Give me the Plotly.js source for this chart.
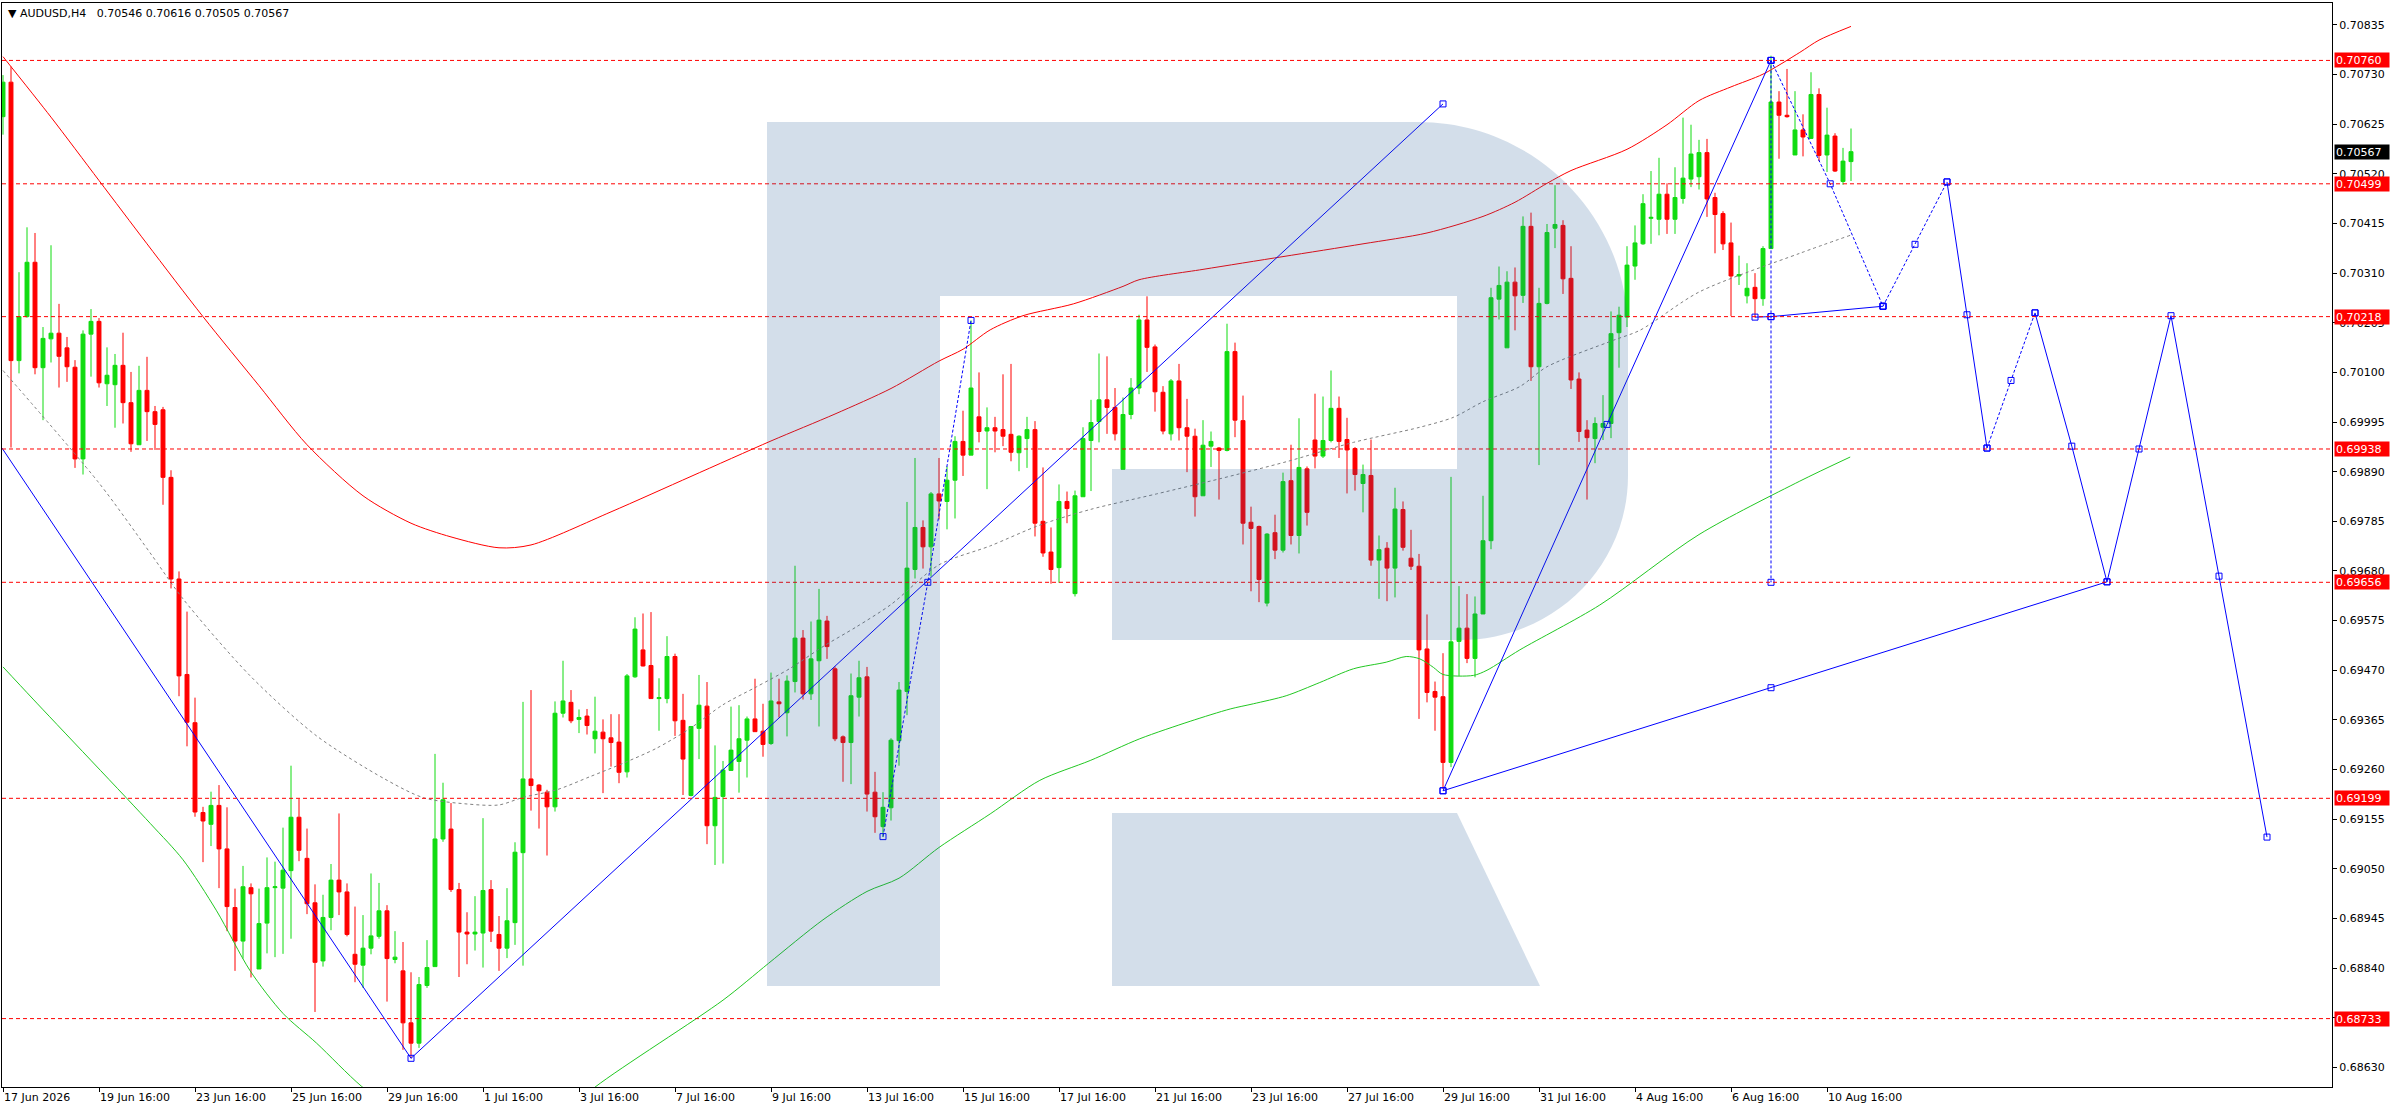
<!DOCTYPE html>
<html><head><meta charset="utf-8">
<script src="https://cdn.plot.ly/plotly-3.0.1.min.js"></script>
<style>html,body{margin:0;padding:0;background:#fff}#chart{width:2396px;height:1110px}</style>
</head><body><div id="chart"></div>
<script>
// ---------- DATA ----------
const headerText = "\u25BC AUDUSD,H4\u00a0\u00a0 0.70546 0.70616 0.70505 0.70567";

const open = [
0.70641,0.70714,0.70125,0.70218,0.70333,0.70110,0.70171,0.70183,0.70152,0.70111,
0.69917,0.70181,0.70208,0.70076,0.70074,0.70115,0.70036,0.69947,0.70062,0.70017,
0.70021,0.69878,0.69663,0.69461,0.69359,0.69169,0.69144,0.69184,0.69092,0.68968,
0.68897,0.69010,0.68838,0.68935,0.69010,0.69009,0.69046,0.69159,0.69072,0.68978,
0.68855,0.68947,0.69026,0.69001,0.68869,0.68846,0.68882,0.68907,0.68961,0.68858,
0.68834,0.68724,0.68681,0.68803,0.68843,0.69113,0.69134,0.69006,0.68916,0.68912,
0.68914,0.69006,0.68911,0.68882,0.68936,0.69084,0.69240,0.69227,0.69212,0.69181,
0.69379,0.69402,0.69366,0.69373,0.69325,0.69339,0.69327,0.69318,0.69255,0.69456,
0.69513,0.69480,0.69410,0.69410,0.69499,0.69364,0.69205,0.69347,0.69394,0.69141,
0.69203,0.69258,0.69277,0.69322,0.69367,0.69341,0.69315,0.69403,0.69380,0.69446,
0.69538,0.69420,0.69490,0.69574,0.69473,0.69329,0.69317,0.69413,0.69456,0.69212,
0.69139,0.69179,0.69321,0.69425,0.69683,0.69772,0.69731,0.69843,0.69827,0.69872,
0.69954,0.69925,0.70006,0.69976,0.69983,0.69979,0.69969,0.69930,0.69960,0.69979,
0.69785,0.69720,0.69687,0.69827,0.69632,0.69837,0.69956,0.69996,0.70042,0.70026,
0.69895,0.70011,0.70067,0.70211,0.70154,0.70058,0.69970,0.70082,0.69983,0.69965,
0.69839,0.69944,0.69940,0.69935,0.70144,0.69998,0.69783,0.69774,0.69612,0.69761,
0.69724,0.69871,0.69755,0.69896,0.69957,0.69923,0.69956,0.70024,0.69958,0.69939,
0.69865,0.69882,0.69703,0.69728,0.69686,0.69810,0.69707,0.69690,0.69515,0.69425,
0.69414,0.69275,0.69531,0.69559,0.69495,0.69589,0.69744,0.70255,0.70152,0.70291,
0.70263,0.70409,0.70112,0.70246,0.70405,0.70411,0.70299,0.70086,0.69978,0.69960,
0.69984,0.69992,0.70184,0.70217,0.70325,0.70372,0.70426,0.70424,0.70477,0.70424,
0.70468,0.70509,0.70514,0.70565,0.70470,0.70436,0.70374,0.70304,0.70262,0.70280,
0.70256,0.70362,0.70672,0.70644,0.70560,0.70613,0.70595,0.70688,0.70560,0.70600,
0.70504,0.70546];

const high = [
0.70729,0.70747,0.70312,0.70407,0.70395,0.70196,0.70369,0.70245,0.70175,0.70126,
0.70189,0.70234,0.70215,0.70153,0.70139,0.70184,0.70101,0.70114,0.70133,0.70029,
0.70027,0.69893,0.69679,0.69594,0.69412,0.69181,0.69213,0.69227,0.69180,0.69008,
0.69056,0.69019,0.69008,0.69074,0.69065,0.69137,0.69268,0.69198,0.69135,0.69017,
0.68995,0.69060,0.69167,0.69019,0.68970,0.68952,0.69040,0.69020,0.68973,0.68918,
0.68895,0.68831,0.68821,0.68899,0.69293,0.69232,0.69189,0.69020,0.68958,0.68992,
0.69157,0.69026,0.68950,0.69009,0.69106,0.69403,0.69428,0.69229,0.69217,0.69404,
0.69490,0.69428,0.69387,0.69388,0.69414,0.69366,0.69377,0.69377,0.69462,0.69582,
0.69590,0.69593,0.69453,0.69542,0.69505,0.69420,0.69352,0.69460,0.69445,0.69311,
0.69278,0.69393,0.69396,0.69372,0.69452,0.69399,0.69465,0.69452,0.69459,0.69691,
0.69555,0.69573,0.69642,0.69585,0.69478,0.69332,0.69463,0.69490,0.69477,0.69255,
0.69212,0.69326,0.69445,0.69826,0.69919,0.69787,0.69847,0.69919,0.69901,0.69965,
0.70019,0.70210,0.70100,0.70026,0.70006,0.70096,0.70118,0.69967,0.70006,0.69997,
0.69899,0.69772,0.69863,0.69848,0.69850,0.69984,0.70042,0.70140,0.70134,0.70067,
0.70047,0.70088,0.70222,0.70261,0.70159,0.70071,0.70086,0.70118,0.70044,0.69981,
0.69999,0.69975,0.69942,0.70203,0.70163,0.70051,0.69816,0.69776,0.69760,0.69799,
0.69888,0.69947,0.70003,0.69901,0.70055,0.70049,0.70104,0.70049,0.70004,0.69942,
0.69905,0.69958,0.69755,0.69741,0.69856,0.69827,0.69767,0.69716,0.69588,0.69446,
0.69506,0.69879,0.69648,0.69631,0.69626,0.69839,0.70279,0.70324,0.70314,0.70322,
0.70430,0.70438,0.70279,0.70414,0.70496,0.70422,0.70367,0.70100,0.69999,0.70005,
0.70052,0.70229,0.70239,0.70367,0.70411,0.70477,0.70526,0.70554,0.70500,0.70534,
0.70639,0.70624,0.70592,0.70594,0.70480,0.70441,0.70417,0.70347,0.70331,0.70310,
0.70367,0.70770,0.70695,0.70742,0.70695,0.70646,0.70735,0.70701,0.70660,0.70606,
0.70575,0.70616];

const low = [
0.70603,0.69941,0.70098,0.70216,0.70096,0.69999,0.70121,0.70068,0.70080,0.69898,
0.69884,0.70091,0.70068,0.70029,0.69983,0.69992,0.69932,0.69947,0.69955,0.69936,
0.69820,0.69643,0.69415,0.69309,0.69160,0.69064,0.69098,0.69009,0.68918,0.68834,
0.68860,0.68820,0.68838,0.68871,0.68863,0.68870,0.68902,0.69066,0.68954,0.68747,
0.68843,0.68920,0.68952,0.68907,0.68810,0.68798,0.68869,0.68902,0.68769,0.68850,
0.68667,0.68649,0.68671,0.68798,0.68843,0.69107,0.69001,0.68821,0.68848,0.68877,
0.68841,0.68895,0.68834,0.68861,0.68889,0.68845,0.69173,0.69135,0.69078,0.69171,
0.69370,0.69358,0.69337,0.69334,0.69294,0.69210,0.69266,0.69231,0.69243,0.69454,
0.69478,0.69410,0.69342,0.69400,0.69331,0.69206,0.69203,0.69282,0.69102,0.69058,
0.69061,0.69258,0.69211,0.69243,0.69340,0.69287,0.69312,0.69370,0.69330,0.69423,
0.69408,0.69407,0.69351,0.69494,0.69320,0.69234,0.69229,0.69372,0.69171,0.69126,
0.69117,0.69152,0.69268,0.69375,0.69664,0.69685,0.69668,0.69789,0.69768,0.69791,
0.69881,0.69925,0.69952,0.69853,0.69931,0.69944,0.69912,0.69891,0.69898,0.69753,
0.69710,0.69653,0.69655,0.69781,0.69626,0.69837,0.69849,0.69952,0.69970,0.69956,
0.69895,0.70001,0.70054,0.70101,0.70017,0.69969,0.69956,0.69956,0.69889,0.69795,
0.69839,0.69900,0.69831,0.69933,0.69963,0.69736,0.69637,0.69614,0.69605,0.69705,
0.69719,0.69736,0.69717,0.69776,0.69897,0.69919,0.69952,0.69919,0.69844,0.69850,
0.69804,0.69691,0.69621,0.69616,0.69624,0.69723,0.69682,0.69367,0.69402,0.69342,
0.69219,0.69265,0.69458,0.69485,0.69455,0.69589,0.69726,0.70212,0.70152,0.70189,
0.70247,0.70082,0.69904,0.70244,0.70363,0.70266,0.70065,0.69953,0.69831,0.69908,
0.69957,0.69961,0.70110,0.70196,0.70296,0.70370,0.70372,0.70390,0.70393,0.70393,
0.70457,0.70492,0.70487,0.70429,0.70352,0.70359,0.70219,0.70285,0.70246,0.70216,
0.70241,0.70362,0.70552,0.70639,0.70560,0.70557,0.70595,0.70547,0.70524,0.70524,
0.70497,0.70505];

const close = [
0.70714,0.70125,0.70218,0.70333,0.70110,0.70172,0.70183,0.70134,0.70112,0.69917,
0.70181,0.70208,0.70078,0.70094,0.70115,0.70036,0.69949,0.70062,0.70017,0.69990,
0.69878,0.69663,0.69458,0.69360,0.69170,0.69151,0.69184,0.69092,0.68970,0.68897,
0.69012,0.68997,0.68934,0.69010,0.69012,0.69047,0.69159,0.69089,0.68976,0.68852,
0.68947,0.69026,0.69001,0.68911,0.68848,0.68882,0.68908,0.68961,0.68860,0.68863,
0.68724,0.68681,0.68805,0.68841,0.69113,0.69196,0.69006,0.68916,0.68912,0.68916,
0.69004,0.68918,0.68882,0.68940,0.69085,0.69240,0.69226,0.69215,0.69181,0.69379,
0.69405,0.69363,0.69370,0.69353,0.69341,0.69325,0.69317,0.69254,0.69458,0.69557,
0.69479,0.69410,0.69412,0.69499,0.69363,0.69282,0.69351,0.69396,0.69141,0.69201,
0.69259,0.69301,0.69325,0.69367,0.69340,0.69313,0.69405,0.69399,0.69447,0.69538,
0.69420,0.69494,0.69576,0.69520,0.69325,0.69317,0.69416,0.69454,0.69208,0.69160,
0.69180,0.69322,0.69428,0.69686,0.69772,0.69731,0.69843,0.69828,0.69872,0.69954,
0.69925,0.70067,0.69975,0.69983,0.69976,0.69965,0.69931,0.69965,0.69979,0.69781,
0.69718,0.69683,0.69827,0.69812,0.69839,0.69960,0.69994,0.70042,0.70026,0.69970,
0.70011,0.70067,0.70211,0.70153,0.70059,0.69976,0.70082,0.69983,0.69965,0.69837,
0.69946,0.69954,0.69935,0.70144,0.69999,0.69781,0.69770,0.69662,0.69758,0.69724,
0.69869,0.69755,0.69899,0.69804,0.69923,0.69956,0.70024,0.69954,0.69936,0.69884,
0.69884,0.69703,0.69725,0.69686,0.69811,0.69730,0.69690,0.69513,0.69423,0.69413,
0.69275,0.69530,0.69559,0.69495,0.69589,0.69744,0.70258,0.70284,0.70291,0.70262,
0.70409,0.70112,0.70246,0.70396,0.70413,0.70298,0.70084,0.69975,0.69962,0.69992,
0.69992,0.70182,0.70221,0.70327,0.70374,0.70457,0.70428,0.70477,0.70424,0.70470,
0.70511,0.70562,0.70565,0.70467,0.70434,0.70372,0.70304,0.70307,0.70278,0.70256,
0.70362,0.70672,0.70644,0.70641,0.70613,0.70598,0.70688,0.70559,0.70602,0.70526,
0.70547,0.70567];

const tickIndex = [0,12,24,36,48,60,72,84,96,108,120,132,144,156,168,180,192,204,216,228];
const tickLabels = ["17 Jun 2026","19 Jun 16:00","23 Jun 16:00","25 Jun 16:00","29 Jun 16:00",
  "1 Jul 16:00","3 Jul 16:00","7 Jul 16:00","9 Jul 16:00","13 Jul 16:00","15 Jul 16:00",
  "17 Jul 16:00","21 Jul 16:00","23 Jul 16:00","27 Jul 16:00","29 Jul 16:00","31 Jul 16:00",
  "4 Aug 16:00","6 Aug 16:00","10 Aug 16:00"];

const priceTicks = [0.68630,0.68735,0.68840,0.68945,0.69050,0.69155,0.69260,0.69365,0.69470,
  0.69575,0.69680,0.69785,0.69890,0.69995,0.70100,0.70205,0.70310,0.70415,0.70520,0.70625,
  0.70730,0.70835];

const levels = [0.70760,0.70499,0.70218,0.69938,0.69656,0.69199,0.68733];
const lastPrice = 0.70567;

// indicator lines (bar index, price)
const maRedX = [0,6,12,18,25,32,38,45,51,56,62,66,76,86,96,104,111,117,120,123.4,127.5,133.8,140,142,150,160,170,178,185,189,193,196,203,208,212,216,220,224.6,227,231];
const maRedY = [0.70768,0.70640,0.70506,0.70372,0.70218,0.70072,0.69947,0.69839,0.69781,0.69752,0.69729,0.69735,0.69805,0.69880,0.69955,0.70012,0.70066,0.70124,0.70149,0.70190,0.70220,0.70245,0.70282,0.70296,0.70318,0.70345,0.70372,0.70395,0.70430,0.70460,0.70500,0.70527,0.70572,0.70624,0.70675,0.70704,0.70731,0.70777,0.70803,0.70832];

const maGrayX = [0,12,18.4,22.5,30.9,39.2,47.6,52.6,58,62,65,69.2,73.4,77.5,81.7,85.9,90,94.2,98.4,102.5,106.7,111,117,123.4,129.6,135.9,144.2,152.1,160.4,168.8,177.1,181.3,185,189.6,193,201.3,204.6,212,224.6,230.9];
const maGrayY = [0.70104,0.69866,0.69718,0.69621,0.69458,0.69331,0.69241,0.69200,0.69187,0.69185,0.69201,0.69217,0.69245,0.69273,0.69305,0.69347,0.69397,0.69435,0.69474,0.69520,0.69562,0.69609,0.69693,0.69733,0.69777,0.69810,0.69843,0.69875,0.69911,0.69952,0.69984,0.70005,0.70038,0.70070,0.70112,0.70168,0.70189,0.70270,0.70352,0.70390];

const maGreenX = [0,3.75,18.4,22.5,26.7,30.9,35,39.2,44.8,52,60,68,74,90,95.7,102.5,108,112,117,123.4,129.6,135.9,142.1,148.4,153.4,156.3,160.4,164.6,168.8,172.9,175.4,177.1,178.8,180,183.8,185.5,189.6,199.6,212,224.6,230.9];
const maGreenY = [0.69477,0.69409,0.69146,0.69069,0.68961,0.68834,0.68744,0.68681,0.68590,0.68500,0.68460,0.68500,0.68588,0.68772,0.68850,0.68942,0.69002,0.69030,0.69095,0.69166,0.69237,0.69279,0.69325,0.69362,0.69388,0.69399,0.69416,0.69444,0.69473,0.69487,0.69499,0.69494,0.69476,0.69461,0.69459,0.69470,0.69513,0.69608,0.69757,0.69870,0.69921];

// analysis / forecast objects (bar index, price)
const trendAX = [-0.125, 51],           trendAY = [0.69940, 0.68649];
const trendBX = [51, 180],              trendBY = [0.68649, 0.70668];
const trendCX = [180, 200.5, 221],      trendCY = [0.69215, 0.69990, 0.70760];
const trendDX = [180, 221, 263],        trendDY = [0.69215, 0.69433, 0.69657];
const levelLineX = [219, 221, 235],     levelLineY = [0.70217, 0.70218, 0.70240];
const dotAX = [110, 115.6, 121],        dotAY = [0.69118, 0.69656, 0.70210];
const dotBX = [221, 228.4, 235],        dotBY = [0.70760, 0.70499, 0.70240];
const dotCX = [235, 239, 243],          dotCY = [0.70240, 0.70371, 0.70503];
const dotDX = [248, 251, 254],          dotDY = [0.69940, 0.70083, 0.70226];
const vertX = [221, 221, 221],          vertY = [0.70760, 0.70218, 0.69656];
const fcst1X = [243, 245.5, 248],       fcst1Y = [0.70503, 0.70222, 0.69940];
const fcst2X = [254, 258.6, 263, 267, 271, 277, 283];
const fcst2Y = [0.70226, 0.69944, 0.69657, 0.69938, 0.70220, 0.69669, 0.69117];

// ---------- CHART ----------
const FONT = "DejaVu Sans, Verdana, sans-serif";
const idx = open.map((_, i) => i);
const BLUE = "#0000FF";

const traces = [];
traces.push({
  type: "candlestick", x: idx, open: open, high: high, low: low, close: close,
  increasing: {line: {color: "#10DC10", width: 1}, fillcolor: "#10DC10"},
  decreasing: {line: {color: "#FF0000", width: 1}, fillcolor: "#FF0000"},
  whiskerwidth: 0, hoverinfo: "skip", showlegend: false
});
function lineTrace(x, y, color, dash, shape) {
  return {type: "scatter", mode: "lines", x: x, y: y, hoverinfo: "skip", showlegend: false,
    line: {color: color, width: 1, dash: dash || "solid", shape: shape || "linear", smoothing: 0.8}};
}
traces.push(lineTrace(maRedX, maRedY, "#FF0000", "solid", "spline"));
traces.push(lineTrace(maGreenX, maGreenY, "#22C822", "solid", "spline"));
traces.push(lineTrace(maGrayX, maGrayY, "#808080", "3px,3px", "spline"));

function blueTrace(x, y, dash, markers) {
  const t = lineTrace(x, y, BLUE, dash, "linear");
  if (markers) {
    t.mode = "lines+markers";
    t.marker = {symbol: "square-open", size: 6, color: BLUE, line: {width: 1, color: BLUE}};
  }
  return t;
}
traces.push(blueTrace(trendAX, trendAY, "solid", false));
traces.push(blueTrace(trendBX, trendBY, "solid", true));
traces.push(blueTrace(trendCX, trendCY, "solid", true));
traces.push(blueTrace(trendDX, trendDY, "solid", true));
traces.push(blueTrace(levelLineX, levelLineY, "solid", true));
traces.push(blueTrace(fcst1X, fcst1Y, "solid", true));
traces.push(blueTrace(fcst2X, fcst2Y, "solid", true));
traces.push(blueTrace(dotAX, dotAY, "3px,2px", true));
traces.push(blueTrace(dotBX, dotBY, "3px,2px", true));
traces.push(blueTrace(dotCX, dotCY, "3px,2px", true));
traces.push(blueTrace(dotDX, dotDY, "3px,2px", true));
traces.push(blueTrace(vertX, vertY, "3px,2px", true));

// plot-area geometry (pixels) for the watermark logo
const PL = 2, PT = 3, PW = 2330, PH = 1084;
const fx = v => ((v - PL) / PW).toFixed(5);
const fy = v => (1 - (v - PT) / PH).toFixed(5);
const P = (x, y) => fx(x) + "," + fy(y);
const logoBody = "M" + P(767,122) + " L" + P(1418,122) +
  " C" + P(1534,122) + " " + P(1628,216) + " " + P(1628,332) +
  " L" + P(1628,476) +
  " C" + P(1628,567) + " " + P(1553,640) + " " + P(1460,640) +
  " L" + P(1112,640) + " L" + P(1112,469) + " L" + P(1457,469) + " L" + P(1457,296) +
  " L" + P(940,296) + " L" + P(940,986) + " L" + P(767,986) + " Z";
const logoLeg = "M" + P(1112,813) + " L" + P(1457,813) + " L" + P(1540,986) + " L" + P(1112,986) + " Z";

const shapes = levels.map(v => ({
  type: "line", xref: "paper", x0: 0, x1: 1, yref: "y", y0: v, y1: v,
  line: {color: "#FF0000", width: 1, dash: "4px,3px"}, layer: "above"
}));
[logoBody, logoLeg].forEach(p => shapes.push({
  type: "path", xref: "paper", yref: "paper", path: p,
  fillcolor: "rgba(35,90,150,0.2)", line: {width: 0}, layer: "above"
}));

const annotations = [];
levels.forEach(v => annotations.push({
  xref: "paper", x: 1, xanchor: "left", xshift: 2, yref: "y", y: v, yanchor: "middle",
  text: v.toFixed(5), showarrow: false, bgcolor: "#FF0000", align: "left",
  font: {family: FONT, size: 11, color: "#FFFFFF"}, width: 52, height: 12, borderpad: 1
}));
annotations.push({
  xref: "paper", x: 1, xanchor: "left", xshift: 2, yref: "y", y: lastPrice, yanchor: "middle",
  text: lastPrice.toFixed(5), showarrow: false, bgcolor: "#000000", align: "left",
  font: {family: FONT, size: 11, color: "#FFFFFF"}, width: 52, height: 12, borderpad: 1
});
annotations.push({
  xref: "paper", x: 0, xanchor: "left", xshift: 4, yref: "paper", y: 1, yanchor: "top", yshift: -2,
  text: headerText, showarrow: false, align: "left",
  font: {family: FONT, size: 11, color: "#000000"}
});

const layout = {
  width: 2396, height: 1110,
  margin: {l: PL, r: 2396 - PL - PW, t: PT, b: 1110 - PT - PH, pad: 0},
  paper_bgcolor: "#FFFFFF", plot_bgcolor: "#FFFFFF",
  showlegend: false, dragmode: false,
  xaxis: {
    range: [-0.125, -0.125 + PW / 8], showgrid: false, zeroline: false,
    showline: true, linecolor: "#000000", linewidth: 1, mirror: true,
    ticks: "outside", ticklen: 4, tickcolor: "#000000", tickwidth: 1,
    tickvals: tickIndex, ticktext: tickLabels, ticklabelposition: "outside right",
    tickfont: {family: FONT, size: 11, color: "#000000"},
    rangeslider: {visible: false}, fixedrange: true
  },
  yaxis: {
    side: "right", range: [0.685883, 0.708815], showgrid: false, zeroline: false,
    showline: true, linecolor: "#000000", linewidth: 1, mirror: true,
    ticks: "outside", ticklen: 4, tickcolor: "#000000", tickwidth: 1,
    tickvals: priceTicks, ticktext: priceTicks.map(v => v.toFixed(5)),
    tickfont: {family: FONT, size: 11, color: "#000000"}, fixedrange: true
  },
  shapes: shapes, annotations: annotations
};

Plotly.newPlot("chart", traces, layout, {displayModeBar: false, staticPlot: true});
</script>
</body></html>
